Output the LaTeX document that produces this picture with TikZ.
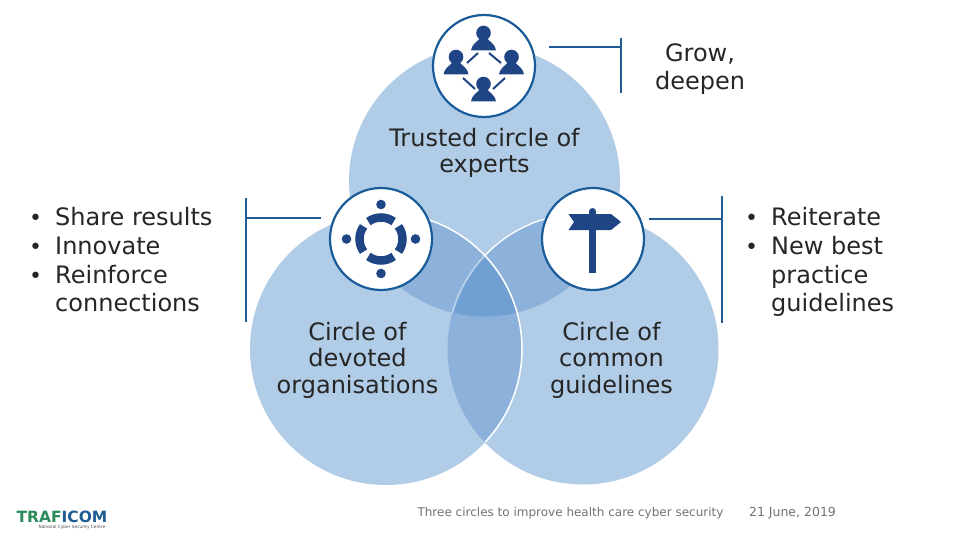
\documentclass[tikz,border=0pt]{standalone}
\usepackage{fontspec}
\setmainfont{DejaVu Sans}
\definecolor{lite}{HTML}{B0CCE6}
\definecolor{mid}{HTML}{8CB1DA}
\definecolor{deep}{HTML}{70A0D2}
\definecolor{navy}{HTML}{1F4585}
\definecolor{ring}{HTML}{1A5C99}
\definecolor{barc}{HTML}{1F5C94}
\definecolor{txt}{HTML}{262626}
\tikzset{
  big/.style={font=\fontsize{24}{26.5}\selectfont,text=txt,align=center,inner sep=0pt},
  bul/.style={font=\fontsize{24}{29}\selectfont,text=txt,align=left,inner sep=0pt,anchor=base west},
  small/.style={font=\fontsize{12}{14}\selectfont,text=black!55,inner sep=0pt},
  badge/.style={circle,draw=ring,line width=2.2pt,fill=white,minimum size=102pt,inner sep=0pt},
  bar/.style={draw=barc,line width=1.5pt}
}
\newcommand{\person}[2]{%
  \fill[navy] (#1,#2) circle (7.3);
  \fill[navy] (#1-12.5,#2+17.5) .. controls (#1-12,#2+12) and (#1-7,#2+9) .. (#1-4,#2+6) -- (#1+4,#2+6) .. controls (#1+7,#2+9) and (#1+12,#2+12) .. (#1+12.5,#2+17.5) -- cycle;
}
\newcommand{\bulline}[1]{\makebox[26pt][l]{\fontsize{22}{22}\selectfont\raisebox{0pt}{\textbullet}}#1}
\newcommand{\contline}[1]{\hspace*{26pt}#1}
\begin{document}
\begin{tikzpicture}[x=1pt,y=-1pt]
\useasboundingbox (0,0) rectangle (960,540);
\fill[white] (0,0) rectangle (960,540);
\def\cirT{(484.5,181) circle (135.5)}
\def\cirL{(386,349) circle (136)}
\def\cirR{(583,349) circle (135.5)}
\fill[lite] \cirT; \fill[lite] \cirL; \fill[lite] \cirR;
\begin{scope}\clip \cirT; \fill[mid] \cirL; \fill[mid] \cirR; \end{scope}
\begin{scope}\clip \cirL; \fill[mid] \cirR; \end{scope}
\begin{scope}\clip \cirT; \clip \cirL; \fill[deep] \cirR; \end{scope}
\begin{scope}\clip \cirT; \draw[white,line width=1.3pt] \cirR; \end{scope}
\begin{scope}\clip \cirL; \clip \cirT; \draw[lite,line width=1.2pt] \cirR; \end{scope}
\begin{scope}\clip (400,200) rectangle (530,441); \draw[white,line width=1.5pt] \cirL; \end{scope}
% badges
\node[badge] (b1) at (484,66) {};
\node[badge] (b2) at (381,239) {};
\node[badge] (b3) at (593,239) {};
% people
\person{483.5}{33}\person{456}{57}\person{511.5}{57}\person{483.5}{84}
\draw[navy,line width=2pt] (478,53) -- (467,63) (489,53) -- (501,63) (463,78) -- (475,89) (505,78) -- (493,89);
% ring icon
\fill[navy] (381,204.5) circle (4.8) (381,273.5) circle (4.8) (346.5,239) circle (4.8) (415.5,239) circle (4.8);
\foreach \a in {0,90,180,270}
  \draw[navy,line width=8.5pt] (381,239) ++(\a-36:21.5) arc (\a-36:\a+36:21.5);
% signpost
\fill[navy] (589,212) rectangle (596,272.7);
\fill[navy] (592.5,211.5) circle (3.5);
\fill[navy] (568.5,214) -- (611,214) -- (621,222) -- (611,230) -- (568.5,230) -- (574,222) -- cycle;
% bars
\coordinate (g1) at (549,47); \coordinate (g2) at (621,47);
\coordinate (g3) at (621,38); \coordinate (g4) at (621,93);
\draw[bar] (g1) -- (g2) (g3) -- (g4);
\coordinate (l1) at (321,218); \coordinate (l2) at (246,218);
\coordinate (l3) at (246,198); \coordinate (l4) at (246,322);
\draw[bar] (l1) -- (l2) (l3) -- (l4);
\coordinate (r1) at (649,219); \coordinate (r2) at (722,219);
\coordinate (r3) at (722,196); \coordinate (r4) at (722,323);
\draw[bar] (r1) -- (r2) (r3) -- (r4);
% text
\node[big,font=\fontsize{24}{28}\selectfont] (tg) at (700,69.5) {Grow,\\deepen};
\node[big] (tt) at (484.5,153) {Trusted circle of\\experts};
\node[big] (tl) at (357.5,360) {Circle of\\devoted\\organisations};
\node[big] (tr) at (611.5,360) {Circle of\\common\\guidelines};
\node[bul] (ls1) at (29,225.5) {\bulline{Share results}};
\node[bul] (ls2) at (29,254.5) {\bulline{Innovate}};
\node[bul] (ls3) at (29,283.5) {\bulline{Reinforce}};
\node[bul] (ls4) at (29,311.5) {\contline{connections}};
\node[bul] (rs1) at (745,225.5) {\bulline{Reiterate}};
\node[bul] (rs2) at (745,254.5) {\bulline{New best}};
\node[bul] (rs3) at (745,283.5) {\contline{practice}};
\node[bul] (rs4) at (745,311.5) {\contline{guidelines}};
\node[small] (f1) at (570.5,513.5) {Three circles to improve health care cyber security};
\node[small,font=\fontsize{12.5}{14}\selectfont] (f2) at (792.5,513.5) {21 June, 2019};
% logo
\definecolor{logog}{HTML}{2A8C5A}
\node[inner sep=0pt,font=\bfseries\fontsize{15.5}{15.5}\selectfont,text=barc] (lg) at (62,517) {\textcolor{logog}{TRAF}ICOM};
\node[inner sep=0pt,font=\fontsize{4.3}{4.3}\selectfont,text=black!70] (lg2) at (72,527.5) {National Cyber Security Centre};
\end{tikzpicture}
\end{document}
